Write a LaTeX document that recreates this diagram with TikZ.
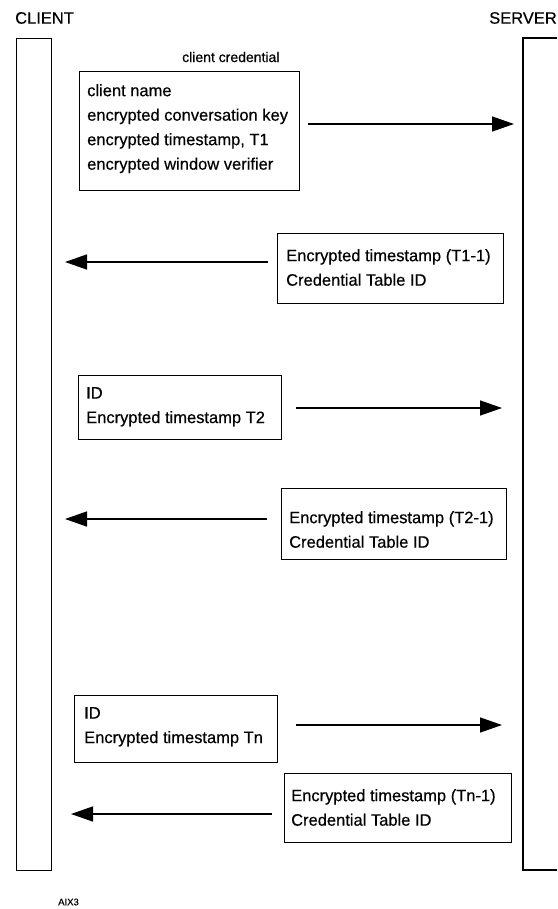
\documentclass[tikz,border=0pt]{standalone}
\usepackage{fontspec}
\setmainfont[FakeBold=0.45,AutoFakeBold=0.45]{Liberation Sans}
\usetikzlibrary{arrows.meta}
\begin{document}
\begin{tikzpicture}[x=1pt,y=-1pt,
  lifeline/.style={draw, line width=1.4pt, inner sep=0pt, anchor=north west},
  msgbox/.style={draw, line width=1.2pt, inner sep=0pt, anchor=north west},
  msgtext/.style={inner sep=0pt, anchor=north west, align=left,
    font=\fontsize{16.5}{24.5}\selectfont\bfseries},
  party/.style={inner sep=0pt, font=\fontsize{16.5}{18}\selectfont\bfseries},
  msg/.style={line width=1.4pt, -{Triangle[length=22pt,width=15pt]}},
]
\useasboundingbox (0,0) rectangle (557,909);

% participants
\node[party, anchor=west] (clientlbl) at (15,18) {CLIENT};
\node[party, anchor=east] (serverlbl) at (557,18) {SERVER};
\node[lifeline, minimum width=35, minimum height=832] (client) at (16,38) {};
\draw[line width=1.4pt] (557,38) -| (523,870) -- (557,870);
\coordinate (server) at (523,38);

% first request: client credential
\node[inner sep=0pt, anchor=west, font=\fontsize{14}{16}\selectfont\bfseries] (credlbl) at (182,57) {client credential};
\node[msgbox, minimum width=220, minimum height=119] (cred) at (79,71) {};
\node[msgtext] (credtext) at (87,84) {client name\\encrypted conversation key\\encrypted timestamp, T1\\encrypted window verifier};
\coordinate (m1a) at (308,124);
\coordinate (m1b) at (514,124);
\draw[msg] (m1a) -- (m1b);

% reply 1
\node[msgbox, minimum width=226, minimum height=70] (rep1) at (277,233) {};
\node[msgtext] (rep1text) at (286,249) {Encrypted timestamp (T1-1)\\Credential Table ID};
\coordinate (m2a) at (268,262);
\coordinate (m2b) at (65,262);
\draw[msg] (m2a) -- (m2b);

% request 2
\node[msgbox, minimum width=203, minimum height=64] (req2) at (78,375) {};
\node[msgtext] (req2text) at (86,387) {ID\\Encrypted timestamp T2};
\coordinate (m3a) at (296,408);
\coordinate (m3b) at (502,408);
\draw[msg] (m3a) -- (m3b);

% reply 2
\node[msgbox, minimum width=225, minimum height=71] (rep2) at (281,488) {};
\node[msgtext] (rep2text) at (289,511) {Encrypted timestamp (T2-1)\\Credential Table ID};
\coordinate (m4a) at (267,519);
\coordinate (m4b) at (65,519);
\draw[msg] (m4a) -- (m4b);

% request n
\node[msgbox, minimum width=203, minimum height=67] (reqn) at (74,695) {};
\node[msgtext] (reqntext) at (84,707) {ID\\Encrypted timestamp Tn};
\coordinate (m5a) at (296,725);
\coordinate (m5b) at (502,725);
\draw[msg] (m5a) -- (m5b);

% reply n
\node[msgbox, minimum width=227, minimum height=69] (repn) at (284,773) {};
\node[msgtext] (repntext) at (291,789) {Encrypted timestamp (Tn-1)\\Credential Table ID};
\coordinate (m6a) at (272,814);
\coordinate (m6b) at (71,814);
\draw[msg] (m6a) -- (m6b);

% figure tag
\node[inner sep=0pt, anchor=west, font=\fontsize{9.5}{11}\selectfont\bfseries] (tag) at (58,902) {AIX3};
\end{tikzpicture}
\end{document}
